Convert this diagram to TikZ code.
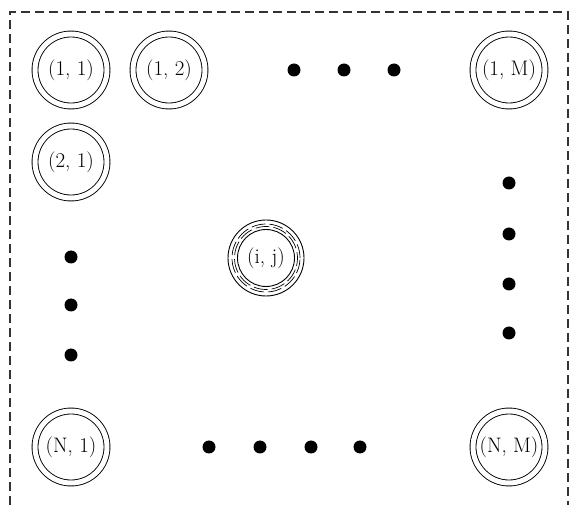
\documentclass[tikz,border=0pt]{standalone}
\begin{document}
\begin{tikzpicture}[x=1pt,y=-1pt,
  cell/.style={circle,draw,line width=0.9pt,double,double distance=5pt,minimum size=72pt,inner sep=0pt,font=\fontsize{21}{24}\selectfont},
  centercell/.style={circle,draw,line width=0.9pt,minimum size=76pt,inner sep=0pt,font=\fontsize{21}{24}\selectfont},
  dot/.style={circle,fill=black,minimum size=13pt,inner sep=0pt},
  frame/.style={line width=1.2pt,dash pattern=on 9pt off 5pt,draw=black!80}]
\useasboundingbox (0,0) rectangle (574,505);
\draw[frame] (10,505) -- (10,12) -- (568,12) -- (568,505);
% corner and edge cells
\node[cell] (c11) at (71,70) {(1, 1)};
\node[cell] (c12) at (169,70) {(1, 2)};
\node[cell] (c1M) at (509,70) {(1, M)};
\node[cell] (c21) at (71,162) {(2, 1)};
\node[cell] (cN1) at (71,447) {(N, 1)};
\node[cell] (cNM) at (509,447) {(N, M)};
% center cell
\node[centercell] (cij) at (266,258) {(i, j)};
\draw[line width=0.9pt] (cij.center) circle (28.5pt);
\draw[line width=0.7pt,dash pattern=on 14pt off 4pt] (cij.center) circle (34pt);
\draw[line width=0.7pt,dash pattern=on 14pt off 4pt,dash phase=8pt] (cij.center) circle (31.5pt);
% dots top row
\node[dot] (t1) at (294,70) {};
\node[dot] (t2) at (344,70) {};
\node[dot] (t3) at (394,70) {};
% dots right column
\node[dot] (r1) at (509,183) {};
\node[dot] (r2) at (509,234) {};
\node[dot] (r3) at (509,284) {};
\node[dot] (r4) at (509,333) {};
% dots left column
\node[dot] (l1) at (71,257) {};
\node[dot] (l2) at (71,305) {};
\node[dot] (l3) at (71,355) {};
% dots bottom row
\node[dot] (b1) at (209,447) {};
\node[dot] (b2) at (260,447) {};
\node[dot] (b3) at (311,447) {};
\node[dot] (b4) at (360,447) {};
\end{tikzpicture}
\end{document}
